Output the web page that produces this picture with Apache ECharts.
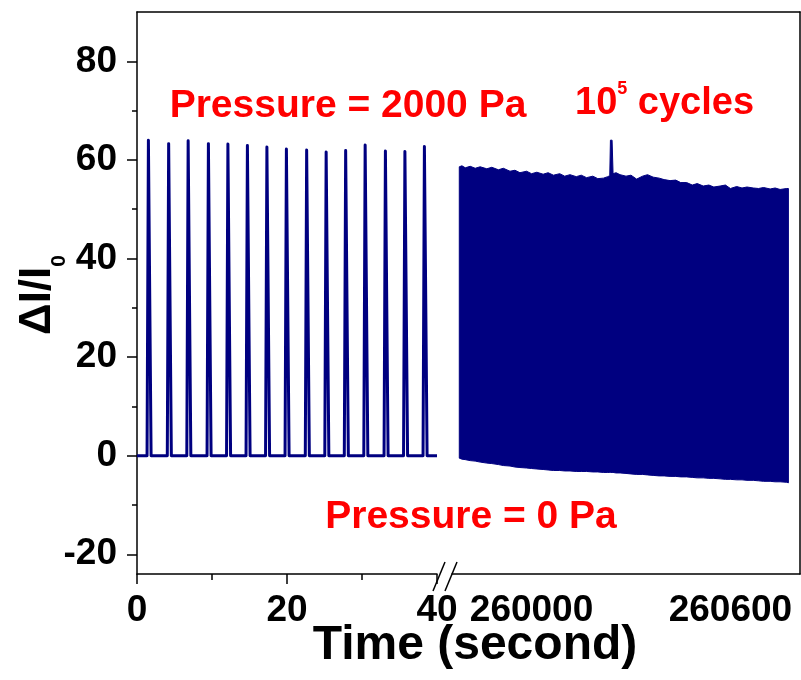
<!DOCTYPE html>
<html>
<head>
<meta charset="utf-8">
<script src="https://cdn.jsdelivr.net/npm/echarts@6/dist/echarts.min.js"></script>
<style>
  html, body { margin: 0; padding: 0; background: #fff; }
  #myChart { width: 801px; height: 680px; }
</style>
</head>
<body>
<div id="myChart"></div>
<script>
// first 40 s: single pressure pulses (time of peak, peak height)
const pulseTime = [1.6, 4.3, 6.9, 9.6, 12.2, 14.8, 17.4, 20.0, 22.7, 25.3, 27.9, 30.5, 33.2, 35.8, 38.4]
const pulsePeak = [64.0, 63.3, 63.9, 63.3, 63.2, 62.9, 62.6, 62.2, 62.0, 61.6, 61.9, 63.0, 61.8, 61.7, 62.7]

// after 10^5 cycles: envelope of the dense signal (top / bottom)
const bandTime = [259782, 259790, 259800, 259815, 259830, 259845, 259865, 259880, 259900, 259915,
  259935, 259950, 259965, 259985, 260000, 260016, 260035, 260050, 260066, 260085,
  260100, 260116, 260135, 260150, 260166, 260185, 260200, 260217, 260230, 260236,
  260238, 260243, 260246, 260255, 260267, 260285, 260300, 260317, 260335, 260350,
  260367, 260385, 260400, 260418, 260435, 260450, 260468, 260485, 260500, 260518,
  260535, 260550, 260569, 260585, 260600, 260619, 260635, 260650, 260669, 260685,
  260700, 260720, 260735, 260750, 260770, 260775]
const bandTop = [58.6, 58.8, 58.4, 58.7, 58.3, 58.6, 58.2, 58.5, 58.0, 58.3,
  57.7, 57.9, 57.4, 57.7, 57.2, 57.5, 57.1, 57.4, 56.9, 57.2,
  56.7, 57.0, 56.6, 56.9, 56.4, 56.7, 56.2, 56.3, 56.6, 56.8,
  64.0, 64.0, 57.2, 57.4, 57.0, 56.7, 56.9, 56.1, 56.7, 57.0,
  56.5, 56.3, 56.0, 55.8, 55.9, 55.4, 55.4, 54.9, 55.2, 54.7,
  54.9, 54.5, 54.7, 54.9, 54.2, 54.6, 54.3, 54.5, 54.3, 54.2,
  54.4, 54.1, 54.3, 54.0, 54.2, 54.2]
const bandBottom = [-0.5, -0.7, -0.8, -1.0, -1.1, -1.3, -1.5, -1.6, -1.8, -2.0,
  -2.1, -2.3, -2.4, -2.5, -2.6, -2.7, -2.8, -2.9, -3.0, -3.0,
  -3.1, -3.1, -3.2, -3.2, -3.2, -3.3, -3.3, -3.4, -3.4, -3.4,
  -3.4, -3.4, -3.4, -3.5, -3.5, -3.6, -3.7, -3.8, -3.8, -3.9,
  -4.0, -4.1, -4.1, -4.2, -4.2, -4.3, -4.3, -4.4, -4.5, -4.5,
  -4.6, -4.6, -4.7, -4.8, -4.8, -4.9, -4.9, -5.0, -5.0, -5.1,
  -5.2, -5.2, -5.3, -5.3, -5.4, -5.5]

const yTicks = [-20, 0, 20, 40, 60, 80]
const yMinorTicks = [-10, 10, 30, 50, 70]
const lateTicks = [260000, 260600]

const NAVY = '#000080'
const RED = '#ff0000'
const FONT = 'Liberation Sans'

const labelFont = { fontSize: 37, fontWeight: 'bold', fontFamily: FONT, color: '#000', formatter: v => String(v) }
const axisLine = { show: true, onZero: false, lineStyle: { color: '#000', width: 1.5 } }

// polyline for the early pulses
const pulseData = [[0, 0]]
pulseTime.forEach((t, i) => {
  pulseData.push([t - 0.26, 0], [t - 0.08, pulsePeak[i]], [t + 0.08, pulsePeak[i]], [t + 0.28, 0])
})
pulseData.push([40, 0])

const myChart = echarts.init(document.getElementById('myChart'))

const option = {
  animation: false,
  backgroundColor: '#fff',
  grid: [
    { left: 137, top: 12, width: 300, height: 562, outerBoundsMode: 'none' },
    { left: 452, top: 12, width: 348, height: 562, outerBoundsMode: 'none' },
    { left: 137, top: 12, width: 663, height: 562, outerBoundsMode: 'none' }
  ],
  xAxis: [
    {
      gridIndex: 0,
      type: 'value',
      min: 0,
      max: 40,
      interval: 20,
      axisLine: axisLine,
      axisTick: { show: true, length: 10, lineStyle: { color: '#000', width: 1.5 } },
      minorTick: { show: true, splitNumber: 2, length: 6, lineStyle: { color: '#000', width: 1.5 } },
      axisLabel: Object.assign({ margin: 18 }, labelFont),
      splitLine: { show: false }
    },
    {
      gridIndex: 1,
      type: 'value',
      min: 259760,
      max: 260810,
      axisLine: axisLine,
      axisTick: { show: false },
      axisLabel: Object.assign({ margin: 18, customValues: lateTicks }, labelFont),
      splitLine: { show: false }
    },
    {
      // top frame
      gridIndex: 2,
      type: 'value',
      position: 'top',
      min: 0,
      max: 1,
      axisLine: axisLine,
      axisTick: { show: false },
      axisLabel: { show: false },
      splitLine: { show: false }
    }
  ],
  yAxis: [
    {
      gridIndex: 0,
      type: 'value',
      position: 'left',
      min: -24,
      max: 90,
      axisLine: axisLine,
      axisTick: { show: true, length: 10, customValues: yTicks, lineStyle: { color: '#000', width: 1.5 } },
      axisLabel: Object.assign({ margin: 20, customValues: yTicks }, labelFont),
      splitLine: { show: false }
    },
    {
      // minor ticks
      gridIndex: 0,
      type: 'value',
      position: 'left',
      min: -24,
      max: 90,
      axisLine: { show: false, onZero: false },
      axisTick: { show: true, length: 5, customValues: yMinorTicks, lineStyle: { color: '#000', width: 1.5 } },
      axisLabel: { show: false },
      splitLine: { show: false }
    },
    {
      gridIndex: 1,
      type: 'value',
      position: 'right',
      min: -24,
      max: 90,
      axisLine: axisLine,
      axisTick: { show: false },
      axisLabel: { show: false },
      splitLine: { show: false }
    },
    {
      gridIndex: 2,
      type: 'value',
      show: false,
      min: 0,
      max: 1
    }
  ],
  series: [
    {
      name: 'pulses',
      type: 'line',
      xAxisIndex: 0,
      yAxisIndex: 0,
      showSymbol: false,
      symbol: 'none',
      lineStyle: { color: NAVY, width: 3, join: 'round' },
      data: pulseData
    },
    {
      // dense cycling signal drawn as the area between its envelopes
      name: 'cycles',
      type: 'custom',
      xAxisIndex: 1,
      yAxisIndex: 2,
      data: bandTime.map((t, i) => [t, bandTop[i], bandBottom[i]]),
      renderItem: function(params, api) {
        if (params.dataIndex !== 0) return null
        const upper = bandTime.map((t, i) => api.coord([t, bandTop[i]]))
        const lower = bandTime.map((t, i) => api.coord([t, bandBottom[i]])).reverse()
        return {
          type: 'polygon',
          shape: { points: upper.concat(lower) },
          style: { fill: NAVY, stroke: NAVY, lineWidth: 1 }
        }
      }
    }
  ],
  graphic: [
    {
      type: 'text',
      x: 348,
      y: 106,
      style: {
        text: 'Pressure = 2000 Pa',
        font: 'bold 39px "Liberation Sans"',
        fill: RED,
        align: 'center',
        verticalAlign: 'middle'
      }
    },
    {
      type: 'text',
      x: 575,
      y: 103,
      style: {
        text: '{m|10}{s|5}{m| cycles}',
        fill: RED,
        align: 'left',
        verticalAlign: 'middle',
        rich: {
          m: { fontSize: 38, fontWeight: 'bold', fontFamily: FONT, lineHeight: 40, verticalAlign: 'bottom', fill: RED },
          s: { fontSize: 18, fontWeight: 'bold', fontFamily: FONT, lineHeight: 18, padding: [0, 0, 27, 0], fill: RED }
        }
      }
    },
    {
      type: 'text',
      x: 471,
      y: 517,
      style: {
        text: 'Pressure = 0 Pa',
        font: 'bold 39px "Liberation Sans"',
        fill: RED,
        align: 'center',
        verticalAlign: 'middle'
      }
    },
    {
      type: 'text',
      x: 475,
      y: 646,
      style: {
        text: 'Time (second)',
        font: 'bold 48px "Liberation Sans"',
        fill: '#000',
        align: 'center',
        verticalAlign: 'middle'
      }
    },
    {
      type: 'text',
      x: 40,
      y: 295,
      rotation: Math.PI / 2,
      style: {
        text: '{m|ΔI/I}{s|0}',
        fill: '#000',
        align: 'center',
        verticalAlign: 'middle',
        rich: {
          m: { fontSize: 44, fontWeight: 'bold', fontFamily: FONT, lineHeight: 48, verticalAlign: 'top', fill: '#000' },
          s: { fontSize: 21, fontWeight: 'bold', fontFamily: FONT, lineHeight: 21, padding: [39, 0, 0, 0], fill: '#000' }
        }
      }
    },
    // axis break marks
    {
      type: 'line',
      shape: { x1: 445, y1: 562, x2: 433, y2: 591 },
      style: { stroke: '#000', lineWidth: 1.5 }
    },
    {
      type: 'line',
      shape: { x1: 457, y1: 562, x2: 445, y2: 591 },
      style: { stroke: '#000', lineWidth: 1.5 }
    }
  ]
}

myChart.setOption(option)
window.addEventListener('resize', function() {
  myChart.resize()
})
</script>
</body>
</html>
